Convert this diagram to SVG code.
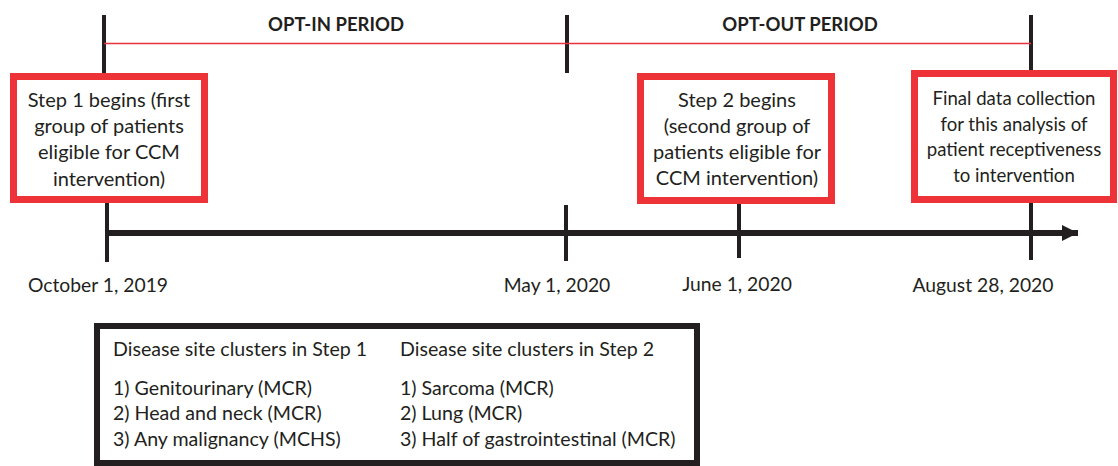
<svg xmlns="http://www.w3.org/2000/svg" width="1118" height="466" viewBox="0 0 1118 466">
<defs>
<style>
.t{font-family:Lato,"Liberation Sans",sans-serif;font-size:20px;fill:#231f20;text-anchor:middle}
.f{font-size:18.6px}
.d{font-family:Lato,"Liberation Sans",sans-serif;font-size:19.3px;fill:#231f20;text-anchor:middle}
.h{font-family:Lato,"Liberation Sans",sans-serif;font-size:18.5px;font-weight:bold;fill:#231f20;text-anchor:middle}
.l{font-family:Lato,"Liberation Sans",sans-serif;font-size:19.6px;fill:#231f20}
.rb{fill:#fff;stroke:#ee3338;stroke-width:7}
.v{stroke:#231f20;stroke-width:4}
</style>
<marker id="ah" markerUnits="userSpaceOnUse" markerWidth="18" markerHeight="18" refX="16" refY="9" orient="auto">
<path d="M0,1 L16,9 L0,17 Z" fill="#231f20"/>
</marker>
</defs>
<g id="connectors">
<line class="v" x1="104" y1="15" x2="104" y2="73"/>
<line class="v" x1="567" y1="15" x2="567" y2="73"/>
<line class="v" x1="1031" y1="15" x2="1031" y2="73"/>
<line x1="104" y1="43.5" x2="1031" y2="43.5" stroke="#e8323c" stroke-width="1.6"/>
<line x1="107" y1="233" x2="1078" y2="233" stroke="#231f20" stroke-width="6" marker-end="url(#ah)"/>
<line class="v" x1="107" y1="203" x2="107" y2="262"/>
<line class="v" x1="566" y1="205" x2="566" y2="261"/>
<line class="v" x1="739" y1="203" x2="739" y2="258"/>
<line class="v" x1="1031" y1="203" x2="1031" y2="260"/>
</g>
<g id="opt-in"><text class="h" x="336" y="31">OPT-IN PERIOD</text></g>
<g id="opt-out"><text class="h" x="800" y="31">OPT-OUT PERIOD</text></g>
<g id="step1">
<rect class="rb" x="13.5" y="76.5" width="191" height="123"/>
<text class="t" x="109" y="107">Step 1 begins (first</text>
<text class="t" x="109" y="133">group of patients</text>
<text class="t" x="109" y="159">eligible for CCM</text>
<text class="t" x="109" y="186">intervention)</text>
</g>
<g id="step2">
<rect class="rb" x="640.5" y="76.5" width="191" height="124"/>
<text class="t" x="737" y="107">Step 2 begins</text>
<text class="t" x="737" y="133">(second group of</text>
<text class="t" x="737" y="159">patients eligible for</text>
<text class="t" x="737" y="185">CCM intervention)</text>
</g>
<g id="final">
<rect class="rb" x="914.5" y="73.5" width="199" height="126"/>
<text class="t f" x="1014" y="105">Final data collection</text>
<text class="t f" x="1014" y="131">for this analysis of</text>
<text class="t f" x="1014" y="156">patient receptiveness</text>
<text class="t f" x="1014" y="182">to intervention</text>
</g>
<g id="dates">
<text class="d" x="98" y="292">October 1, 2019</text>
<text class="d" x="557" y="292">May 1, 2020</text>
<text class="d" x="737" y="291">June 1, 2020</text>
<text class="d" x="983" y="292">August 28, 2020</text>
</g>
<g id="clusters">
<rect x="97" y="326" width="600" height="137" fill="#fff" stroke="#231f20" stroke-width="6"/>
<text class="l" x="113" y="356">Disease site clusters in Step 1</text>
<text class="l" x="113" y="395">1) Genitourinary (MCR)</text>
<text class="l" x="113" y="420">2) Head and neck (MCR)</text>
<text class="l" x="113" y="446">3) Any malignancy (MCHS)</text>
<text class="l" x="400" y="356">Disease site clusters in Step 2</text>
<text class="l" x="400" y="395">1) Sarcoma (MCR)</text>
<text class="l" x="400" y="420">2) Lung (MCR)</text>
<text class="l" x="400" y="446">3) Half of gastrointestinal (MCR)</text>
</g>
</svg>
